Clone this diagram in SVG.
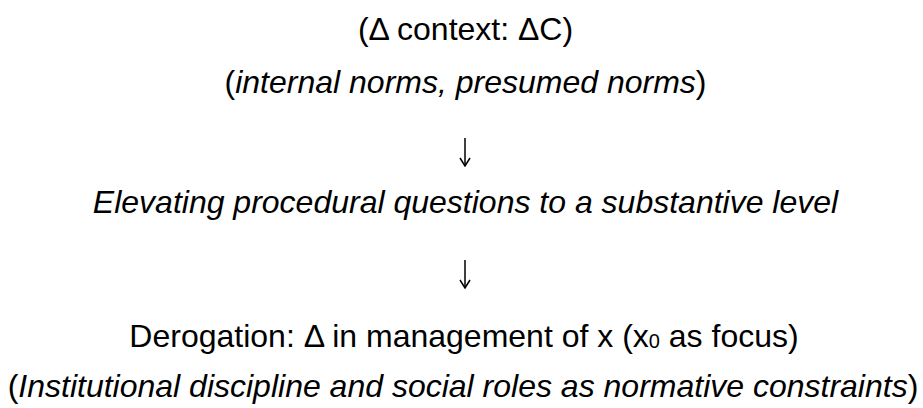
<svg xmlns="http://www.w3.org/2000/svg" width="923" height="408" viewBox="0 0 923 408">
<style>
.t{font-family:"Liberation Sans",Arial,sans-serif;font-size:32px;fill:#000;text-anchor:middle}
.i{font-style:italic}
.c{fill:none;stroke:#000;stroke-width:1.5}
</style>
<defs>
<marker id="head" viewBox="0 0 10 12" refX="9" refY="6" markerWidth="10" markerHeight="12" markerUnits="userSpaceOnUse" orient="auto">
<path d="M1 1 L9 6 L1 11" fill="none" stroke="#000" stroke-width="1.5"/>
</marker>
</defs>
<rect width="923" height="408" fill="#fff"/>
<g id="context"><text class="t" x="465.5" y="40">(Δ context: ΔC)</text></g>
<g id="norms"><text class="t" x="465.5" y="93">(<tspan class="i">internal norms, presumed norms</tspan>)</text></g>
<g id="elevating"><text class="t i" x="465.5" y="213">Elevating procedural questions to a substantive level</text></g>
<g id="derogation"><text class="t" x="464" y="347">Derogation: Δ in management of x (x<tspan font-size="20" dy="1">0</tspan><tspan dy="-1"> as focus)</tspan></text></g>
<g id="constraints"><text class="t" x="463" y="397">(<tspan class="i">Institutional discipline and social roles as normative constraints</tspan>)</text></g>
<g id="connectors">
<path class="c" d="M465 138 V166" marker-end="url(#head)"/>
<path class="c" d="M465 260 V288" marker-end="url(#head)"/>
</g>
</svg>
